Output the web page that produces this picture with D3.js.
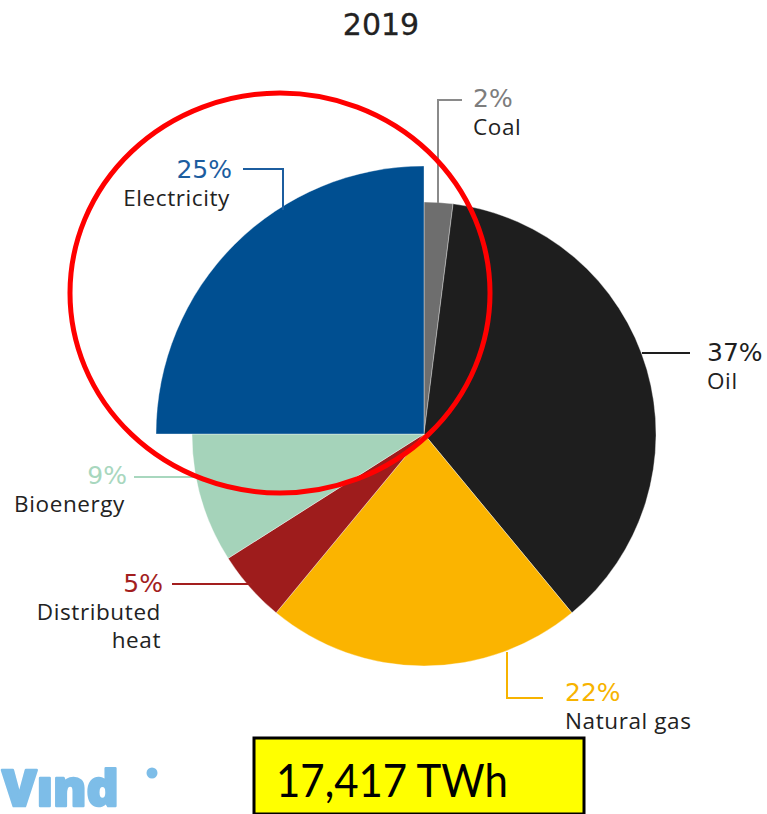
<!DOCTYPE html>
<html><head><meta charset="utf-8">
<script src="https://cdn.jsdelivr.net/npm/d3@7"></script>
<style>body{margin:0;background:#fff}svg{display:block}</style>
</head><body>
<svg id="c" width="767" height="814"></svg>
<script>
// ---- data ----
const categories = ["Coal", "Oil", "Natural gas", "Distributed heat", "Bioenergy", "Electricity"];
const shares = [2, 37, 22, 5, 9, 25];
const shareLabels = ["2%", "37%", "22%", "5%", "9%", "25%"];
const nameLines = [["Coal"], ["Oil"], ["Natural gas"], ["Distributed", "heat"], ["Bioenergy"], ["Electricity"]];
const highlighted = ["Electricity"];
const titleText = "2019";
const totalText = "17,417 TWh";
const logoText = "Vınd";

// ---- styles / layout ----
const fillColors = ["#6e6e6e", "#1e1e1e", "#fbb400", "#9e1c1c", "#a5d3ba", "#004f91"];
const pctColors = ["#7d7d7d", "#1e1e1e", "#f7b300", "#a31e1e", "#a8d7be", "#1c5d9f"];
const lineColors = ["#8a8a8a", "#1e1e1e", "#f7b300", "#a31e1e", "#a8d7be", "#1c5d9f"];
const cx = 424, cy = 434, R = 232, Rbig = 268;
const layout = {
  "Coal":            {x: 473, y: 107, anchor: "start", leader: [[438, 203], [438, 100], [462, 100]]},
  "Oil":             {x: 707, y: 361, anchor: "start", leader: [[642, 353], [690, 353]]},
  "Natural gas":     {x: 565, y: 701, anchor: "start", leader: [[507, 652], [507, 698], [543, 698]]},
  "Distributed heat":{x: 163, y: 592, anchor: "end",   leader: [[172, 584], [252, 584]]},
  "Bioenergy":       {x: 127, y: 484, anchor: "end",   leader: [[134, 477], [198, 477]]},
  "Electricity":     {x: 232, y: 178, anchor: "end",   leader: [[243, 169], [283, 169], [283, 210]]}
};

const svg = d3.select("#c");
const data = categories.map((c, i) => ({name: c, value: shares[i], pct: shareLabels[i], lines: nameLines[i], i}));

const pie = d3.pie().value(d => d.value).sort(null).startAngle(0).endAngle(2 * Math.PI);
const arcs = pie(data);
const arcGen = d3.arc().innerRadius(0).outerRadius(d => highlighted.includes(d.data.name) ? Rbig : R);

const g = svg.append("g").attr("transform", `translate(${cx},${cy})`);
g.selectAll("path").data(arcs).join("path")
  .attr("d", arcGen)
  .attr("fill", d => fillColors[d.data.i])
  .attr("stroke", "#ffffff").attr("stroke-width", 0.6).attr("stroke-opacity", 0.6);

// title
svg.append("text").attr("x", 381).attr("y", 35).attr("text-anchor", "middle")
  .attr("font-family", "DejaVu Sans").attr("font-size", 30).attr("fill", "#222")
  .attr("stroke", "#222").attr("stroke-width", 0.3)
  .text(titleText);

// leaders & labels
const lab = svg.append("g");
data.forEach(d => {
  const L = layout[d.name];
  lab.append("path").attr("d", d3.line()(L.leader)).attr("fill", "none")
    .attr("stroke", lineColors[d.i]).attr("stroke-width", 2);
  lab.append("text").attr("x", L.x).attr("y", L.y).attr("text-anchor", L.anchor)
    .attr("font-family", "DejaVu Sans").attr("font-size", 25).attr("fill", pctColors[d.i])
    .text(d.pct);
  d.lines.forEach((ln, k) => {
    lab.append("text").attr("x", L.anchor === "end" ? L.x - 2 : L.x).attr("y", L.y + 28 + k * 28).attr("text-anchor", L.anchor)
      .attr("font-family", "Open Sans").attr("font-size", 22.5).attr("letter-spacing", 0.6).attr("fill", "#222")
      .text(ln);
  });
});

// red highlight ellipse
svg.append("ellipse").attr("cx", 280).attr("cy", 293).attr("rx", 210).attr("ry", 200)
  .attr("fill", "none").attr("stroke", "#ff0000").attr("stroke-width", 5);

// total box
svg.append("rect").attr("x", 254).attr("y", 738).attr("width", 330).attr("height", 76)
  .attr("fill", "#ffff00").attr("stroke", "#000").attr("stroke-width", 3);
svg.append("text").attr("x", 276).attr("y", 797)
  .attr("font-family", "Lato").attr("font-size", 47).attr("fill", "#000")
  .attr("textLength", 232).attr("lengthAdjust", "spacingAndGlyphs")
  .text(totalText);

// logo
svg.append("text").attr("x", 2).attr("y", 806)
  .attr("font-family", "Open Sans").attr("font-weight", 800).attr("font-size", 50).attr("fill", "#7dbde8")
  .attr("stroke", "#7dbde8").attr("stroke-width", 2.5).attr("stroke-linejoin", "round")
  .text(logoText);
svg.append("circle").attr("cx", 152).attr("cy", 773).attr("r", 5.5).attr("fill", "#7dbde8");
</script>
</body></html>
